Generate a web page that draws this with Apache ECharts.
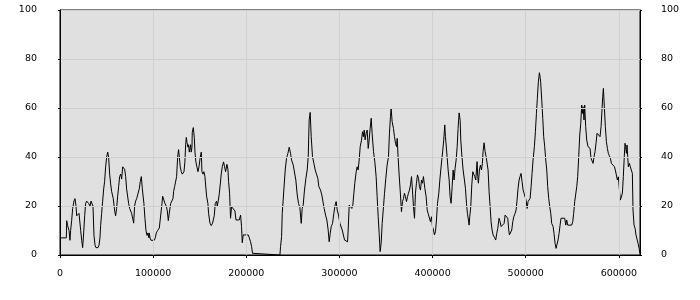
<!DOCTYPE html>
<html><head><meta charset="utf-8">
<script src="https://cdn.jsdelivr.net/npm/echarts@6/dist/echarts.min.js"></script>
<style>html,body{margin:0;padding:0;background:#fff}#c{width:700px;height:300px}</style>
</head><body><div id="c"></div>
<script>
const xTicks = [0, 100000, 200000, 300000, 400000, 500000, 600000];
const yTicks = [0, 20, 40, 60, 80, 100];
const xMax = 622700;
const positions = [0,6800,7200,8200,9700,10700,11400,12500,13600,15000,16100,17200,17900,19300,20400,21500,22200,23300,24300,24700,25400,26500,27500,28600,29700,30800,32200,33300,34300,35400,36500,37600,38600,40800,41900,42900,43600,44700,45800,46900,47900,49000,50100,51200,52200,53300,54400,55400,57200,58700,59700,60800,61900,63000,64000,65100,66200,67300,69400,70500,71500,73700,74800,76900,79100,80100,81200,82300,83700,85100,86200,87300,88400,90100,91200,92300,93400,94400,95500,95900,96600,97700,101200,102300,103400,104800,106600,108700,109500,110200,111600,112700,114100,115200,116300,117300,118800,120200,121300,122000,123100,124500,125200,126300,127300,128100,129100,130200,131300,133100,134100,134900,135600,136300,137400,138100,138800,140200,140900,141700,142000,143100,144200,144900,145900,147000,148100,149200,150600,151700,152400,153500,154500,155600,156700,157400,158800,159500,161000,162400,163800,165600,166700,168100,168800,169900,171000,172100,173100,174200,175600,176700,177800,179200,180300,181000,182100,183100,184200,186000,187800,188900,192400,193900,194900,195700,196700,202100,203200,204600,205700,206700,207500,236100,236800,237900,238600,239600,240700,241800,243200,244700,246100,247500,248600,250400,251800,253200,254700,256100,257500,259000,260000,261100,262500,264000,265400,266500,267500,268600,269700,271100,272600,274000,275400,276800,277900,279700,281100,282600,283600,285100,286500,287900,289000,290100,291200,292600,294000,295400,296500,297600,299000,300500,301900,303000,304400,305500,305800,308700,309400,310500,311900,313300,314400,315500,316500,318000,319000,320100,321200,322300,323700,324800,325800,326600,327600,328700,329800,330900,331900,333000,334100,335100,336600,338000,339400,340500,341600,342700,343700,344800,345900,347300,348400,349800,351200,352700,353700,354800,355500,356600,358000,359100,360200,361300,362000,363000,364100,365200,366600,367700,368800,369800,370900,372000,373100,374100,375200,376300,377400,378400,379500,380600,381600,382700,383800,384900,385900,387000,388100,389200,390200,391700,393100,394200,395200,396700,397700,398800,399900,401000,402000,403100,404200,405300,406700,407800,408800,409900,411000,412000,413100,413800,414600,415600,416700,417800,418800,419900,421000,422100,423100,424200,425300,426400,427400,428500,429600,430300,431400,432800,434200,435300,436400,437400,438500,439200,439900,441000,442100,443200,444200,445300,446400,447100,447800,448500,449200,450300,451400,452500,453500,454200,455300,456400,457500,458500,459600,460700,461800,462800,463900,465000,466400,467800,468900,470000,471400,472500,473600,474600,475700,476800,477900,479300,480700,481800,482500,483900,485000,486100,487200,488600,489700,490700,491800,492900,493900,495000,496100,497200,498200,499300,500400,501500,502500,503600,504700,505800,506800,507900,509300,510400,511500,512500,513600,514700,515400,516100,517200,518300,519300,520400,521500,522600,523600,524700,525800,526900,527900,529400,530400,531500,532600,533700,534700,535800,536900,537900,541900,543000,544000,545100,549400,550500,551500,552600,553700,554800,555800,556900,558000,559100,560100,560800,561600,562600,563300,564400,565500,566900,568000,569100,570100,571200,572300,573400,574400,575500,576600,577700,578700,579800,580900,581600,582700,583400,584400,585500,586600,587700,588700,589800,590900,592000,593000,594100,595200,596200,597300,598400,599500,600500,601600,602700,603800,604800,605900,606600,607300,608100,608800,609500,610200,611300,612300,613400,614500,615200,616300,617400,618400,619500,620600,621700,622700];
const values = [7,7,14,12,10,6,10,14,19,22,23,20,16,16,17,17,10,6,3,5,9,16,21,22,22,21,20,22,22,20,8,4,3,3,4,7,12,17,22,27,30,36,40,42,40,33,29,26,23,18,16,19,24,28,32,33,31,36,35,32,27,21,19,17,13,20,22,23,23,27,30,32,27,21,15,10,8,9,7,9,7,6,6,7,9,10,11,11,21,24,24,21,20,18,14,17,21,21,23,26,28,28,32,40,43,40,36,34,33,34,38,45,48,46,44,45,42,45,42,44,50,52,48,42,38,36,34,36,40,42,34,33,34,32,27,24,21,17,13,12,13,16,21,22,20,22,25,29,33,36,38,36,34,37,35,30,25,15,19.7,19.7,18,14.3,14.3,16.3,11.6,5,8.2,8.2,7,5.4,3.4,0.7,0,0,3.4,7.5,17,22.4,28.6,34.7,39.5,41.5,44,41.5,38.8,36.7,36,30.6,24.5,21,19.5,12.9,19,20.4,26.5,31.3,34.7,40.1,55.1,58.2,48.3,40.1,37.4,34.7,34,31.3,27.9,26.5,24.5,23.8,19,16.3,14.3,10.2,5.4,8.8,11.6,12.9,17,20.4,21.8,18.4,16.3,12.9,12.2,10.2,10.9,6.1,5.4,5.4,10.2,20.4,21,19,20.4,25.2,29.3,34,36,34.7,38.8,44.2,46.9,50.3,48.3,51,47,49.7,51,43.5,46.9,51.7,55.8,49.7,42.2,38.1,32,23.8,15.6,8.8,1.4,4.8,12.9,19.7,25.2,31.3,36.7,40.1,49.7,56.5,59.9,54.4,51.7,48.3,45.6,44.2,47.6,40.1,32.7,26.5,17.7,21.8,23.1,25.2,23.8,21.8,23.8,25.2,26.5,28.6,32,26.5,19.7,15,25.2,29.3,32.7,31.3,27.9,26.5,30.6,29.3,32,27.2,23.8,18.4,17,16.3,13.6,15.6,11.6,10.2,8.2,9.5,14.3,21.1,25.2,30.6,34.7,38.8,42.9,46.9,53.1,48.3,44.9,40.1,34.7,30.6,23.8,21.1,27.9,34.7,30.6,35.4,38.8,44.2,51.7,58,55,46.9,40.8,34.7,30.6,27.2,21.1,17,14.3,12.2,15.6,19.7,28.6,34,33.3,32,30.6,34.7,38.1,32,29.3,34.7,36.7,34.7,37.4,42.2,45.8,42.2,40.1,40.8,34.7,25.8,19.7,13.6,10.2,8.2,7.2,6.1,8.8,10.9,15,13.6,11.6,10.9,11.6,12.9,16.3,15.6,15,10.2,8.2,8.2,10.2,13.6,15.6,17,18.4,22.4,27.2,30.6,32,33.3,29.9,26.5,25.2,24.5,22.4,19,21.8,22.4,23.1,27.9,33.3,38.8,44.2,50.3,57.8,64,70.7,74.4,72.8,70.3,63.3,55.8,48.3,44.2,38.8,34.7,27.9,23.1,19.7,17,12.9,11.6,8.8,4.8,2.7,2,6.1,8.8,12.2,15,15,12.2,14.3,12.2,12.2,13.6,17,21.8,22.4,27.9,32,40.1,49,53.7,61.2,57.8,60.5,55.1,61.2,52.4,46.9,44.2,44.9,43.5,39.5,38.8,37.4,40.1,42.2,45.6,49.7,49,50.3,48.3,52.4,57.1,64.6,68,60.5,52.4,46.3,43.5,41.5,40.5,39.5,37.4,37.1,38.1,36.1,34.7,32.7,30.6,31.9,27.2,22.4,22,25.2,32,40.8,45.6,44.2,41.5,44.9,40.1,36,37.4,36,34.7,33.3,18.4,12.2,10.9,8.2,7.5,4.8,2.7,0.7];

const data = positions.map((x, i) => [x, values[i]]);
const font = {fontFamily: 'DejaVu Sans', fontSize: 9.5, color: '#000'};
const plain = v => String(v);
const yAxisBase = {
  type: 'value', min: 0, max: 100, interval: 20, z: 3,
  axisLine: {show: true, lineStyle: {color: '#000', width: 1}},
  axisTick: {show: true, length: 2, lineStyle: {color: '#000'}, customValues: yTicks}
};
const chart = echarts.init(document.getElementById('c'), null, {renderer: 'canvas'});
chart.setOption({
  animation: false,
  backgroundColor: '#fff',
  grid: {left: 60, right: 60, top: 10, bottom: 45, show: true, backgroundColor: '#e0e0e0', borderColor: '#000', borderWidth: 1},
  xAxis: {
    type: 'value', min: 0, max: xMax, interval: 100000, z: 3,
    axisLine: {show: true, onZero: false, lineStyle: {color: '#000', width: 1}},
    axisTick: {show: true, length: 3, lineStyle: {color: '#000'}, customValues: xTicks},
    axisLabel: Object.assign({margin: 14, customValues: xTicks, formatter: plain}, font),
    splitLine: {show: true, lineStyle: {color: '#d0d0d0', width: 1}}
  },
  yAxis: [
    Object.assign({position: 'left', splitLine: {show: true, lineStyle: {color: '#d0d0d0', width: 1}}}, yAxisBase, {axisLabel: Object.assign({margin: 23, customValues: yTicks, formatter: plain}, font)}),
    Object.assign({position: 'right', splitLine: {show: false}}, yAxisBase, {axisLabel: Object.assign({margin: 21, customValues: yTicks, formatter: plain}, font)})
  ],
  series: [{
    type: 'line', data: data, yAxisIndex: 0, showSymbol: false, symbol: 'none', z: 1,
    lineStyle: {color: '#000', width: 1}, silent: true
  }]
});
</script>
</body></html>
